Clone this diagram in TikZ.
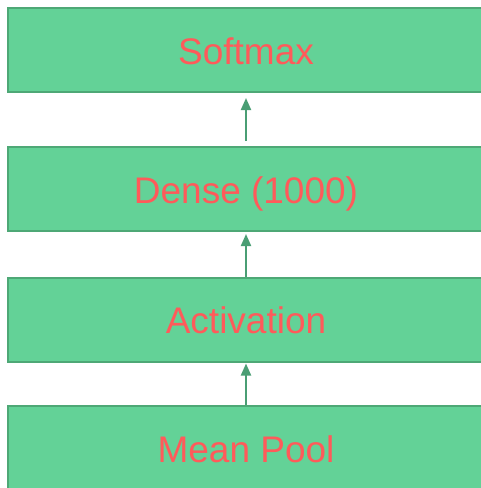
\documentclass[tikz,border=0pt]{standalone}
\usepackage{fontspec}
\setmainfont{Liberation Sans}
\usetikzlibrary{arrows.meta}
\definecolor{boxfill}{RGB}{99,210,151}
\definecolor{boxedge}{RGB}{78,168,118}
\definecolor{txtred}{RGB}{255,90,90}
\definecolor{arrowcol}{RGB}{74,158,116}
\tikzset{
  layer/.style={draw=boxedge, fill=boxfill, line width=2pt, minimum width=476pt, minimum height=84pt, inner sep=0pt, text height=28pt, text depth=0pt, text=txtred, font=\fontsize{37pt}{41pt}\selectfont},
  flow/.style={draw=arrowcol, line width=2pt, -{Triangle[width=10pt,length=12pt]}}
}
\begin{document}
\begin{tikzpicture}[x=1pt,y=-1pt]
\useasboundingbox (0,0) rectangle (481,488);
\clip (0,0) rectangle (481,488);
\node[layer] (soft) at (246,50) {Softmax};
\node[layer] (dense) at (246,189) {Dense (1000)};
\node[layer] (act) at (246,319.5) {Activation};
\node[layer] (pool) at (246,448) {Mean Pool};
\draw[flow, shorten <=5pt, shorten >=5pt] (dense.north) -- (soft.south);
\draw[flow, shorten >=2pt] (act.north) -- (dense.south);
\draw[flow, shorten >=1pt] (pool.north) -- (act.south);
\end{tikzpicture}
\end{document}
